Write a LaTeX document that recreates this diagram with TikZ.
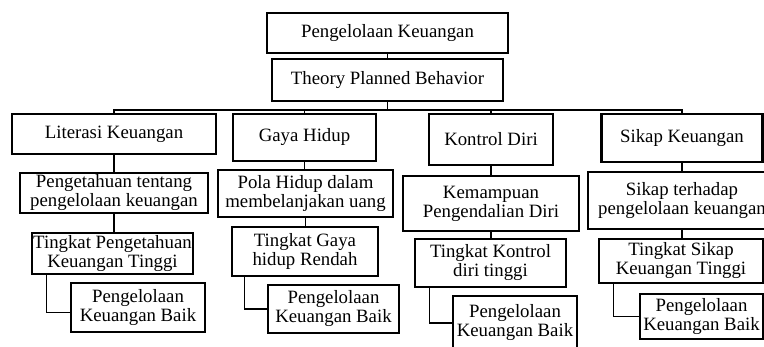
\documentclass[tikz,border=0pt]{standalone}
\usepackage{fontspec}
\setmainfont{Liberation Serif}
\usepackage{tikz}
\usetikzlibrary {calc,
                 positioning}
\tikzset{
        base/.style={draw, line width=2.8pt, align=center, inner sep=0pt,
                     font=\fontsize{18.8}{19}\selectfont},
        box/.style={base, rectangle},
        link/.style={line width=1.5pt},
 }

\begin{document}
\begin{tikzpicture}[x=1pt, y=-1pt]
    \clip (0,0) rectangle (764,347);
    % top of the tree
    \node[box, minimum width=241pt, minimum height=40pt] (top) at (387.5,33) {Pengelolaan Keuangan};
    \node[box, minimum width=231pt, minimum height=42pt] (tpb) at (387.5,80) {Theory Planned Behavior};
    \coordinate (bus) at (387.5,110);
    % first level
    \node[box, minimum width=204pt, minimum height=40pt] (lit) at (114,134) {Literasi Keuangan};
    \node[box, minimum width=143pt, minimum height=47pt] (gaya) at (304.5,137.5) {Gaya Hidup};
    \node[box, minimum width=124pt, minimum height=51pt] (kon) at (491,139.5) {Kontrol Diri};
    \node[box, minimum width=161pt, minimum height=48pt] (sik) at (682,138) {Sikap Keuangan};
    % second level
    \node[box, minimum width=188pt, minimum height=40pt] (litb) at (114,193) {Pengetahuan tentang\\pengelolaan keuangan};
    \node[box, minimum width=175pt, minimum height=47pt] (gayab) at (305.5,193.5) {Pola Hidup dalam\\membelanjakan uang};
    \node[box, minimum width=176pt, minimum height=55pt] (konb) at (491,203.5) {Kemampuan\\Pengendalian Diri};
    \node[box, minimum width=188pt, minimum height=57pt] (sikb) at (682,200.5) {Sikap terhadap\\pengelolaan keuangan};
    % third level
    \node[box, minimum width=161pt, minimum height=41pt] (litc) at (112.5,253.5) {Tingkat Pengetahuan\\Keuangan Tinggi};
    \node[box, minimum width=146pt, minimum height=49pt] (gayac) at (305,251.5) {Tingkat Gaya\\hidup Rendah};
    \node[box, minimum width=151pt, minimum height=48pt] (konc) at (490.5,263) {Tingkat Kontrol\\diri tinggi};
    \node[box, minimum width=164pt, minimum height=44pt] (sikc) at (681,261) {Tingkat Sikap\\Keuangan Tinggi};
    % fourth level
    \node[box, minimum width=134pt, minimum height=49pt] (litd) at (138,307.5) {Pengelolaan\\Keuangan Baik};
    \node[box, minimum width=131pt, minimum height=48pt] (gayad) at (333.5,309) {Pengelolaan\\Keuangan Baik};
    \node[box, minimum width=124pt, minimum height=54pt] (kond) at (515,323) {Pengelolaan\\Keuangan Baik};
    \node[box, minimum width=123pt, minimum height=45pt] (sikd) at (701.5,316.5) {Pengelolaan\\Keuangan Baik};

    \draw[link] (top.south) -- (top.south |- tpb.north);
    \draw[link] (tpb.south) -- (bus);
    \draw[link] (lit.north) -- (lit.north |- bus) -| (sik.north);
    \draw[link] (gaya.north) -- (gaya.north |- bus);
    \draw[link] (kon.north) -- (kon.north |- bus);
    \foreach \col in {lit, gaya, kon, sik} {
        \draw[link] (\col.south) -- (\col.south |- \col b.north);
        \draw[link] (\col b.south) -- (\col b.south |- \col c.north);
    }
    \draw[link] ([xshift=16pt]litc.south west) |- ([yshift=-5pt]litd.west);
    \draw[link] ([xshift=14pt]gayac.south west) |- (gayad.west);
    \draw[link] ([xshift=16pt]konc.south west) |- (kond.west);
    \draw[link] ([xshift=16pt]sikc.south west) |- (sikd.west);
\end{tikzpicture}
\end{document}
